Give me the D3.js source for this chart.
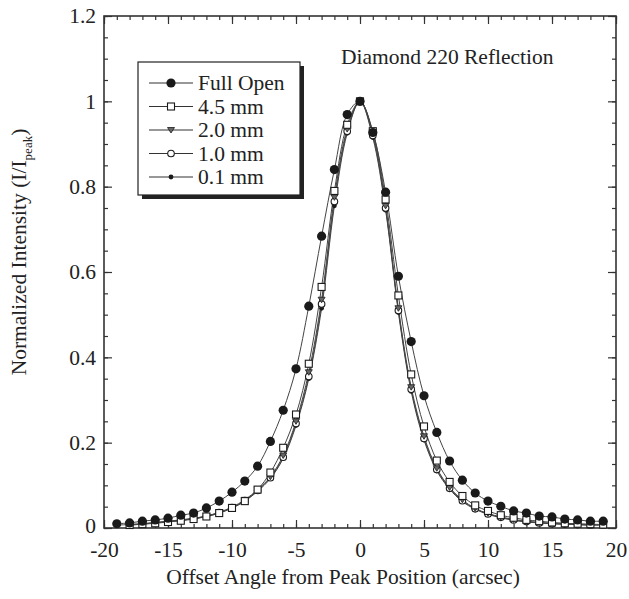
<!DOCTYPE html>
<html>
<head>
<meta charset="utf-8">
<script src="https://cdn.jsdelivr.net/npm/d3@7"></script>
<style>
  body { margin: 0; background: #fff; }
  text { font-family: "Liberation Serif", "Times New Roman", serif; fill: #222; }
</style>
</head>
<body>
<svg id="chart" width="629" height="599"></svg>
<script>
// ---- data ----
const seriesNames = ["Full Open", "4.5 mm", "2.0 mm", "1.0 mm", "0.1 mm"];

const fullOpenX = [-19,-18,-17,-16,-15,-14,-13,-12,-11,-10,-9,-8,-7,-6,-5,-4,-3,-2,-1,0,1,2,3,4,5,6,7,8,9,10,11,12,13,14,15,16,17,18,19];
const fullOpenY = [0.010,0.012,0.016,0.019,0.023,0.030,0.035,0.047,0.063,0.084,0.110,0.145,0.203,0.276,0.373,0.520,0.684,0.840,0.969,1.000,0.927,0.787,0.590,0.437,0.310,0.224,0.157,0.112,0.082,0.063,0.051,0.040,0.035,0.028,0.026,0.021,0.019,0.016,0.016];

const mm45X = [-18,-17,-16,-15,-14,-13,-12,-11,-10,-9,-8,-7,-6,-5,-4,-3,-2,-1,0,1,2,3,4,5,6,7,8,9,10,11,12,13,14,15,16,17,18,19];
const mm45Y = [0.007,0.009,0.011,0.014,0.017,0.021,0.027,0.035,0.047,0.063,0.090,0.130,0.188,0.266,0.385,0.565,0.790,0.945,1.000,0.930,0.770,0.545,0.360,0.238,0.158,0.108,0.075,0.053,0.040,0.030,0.024,0.019,0.016,0.013,0.011,0.010,0.009,0.008];

const mm20X = [-18,-17,-16,-15,-14,-13,-12,-11,-10,-9,-8,-7,-6,-5,-4,-3,-2,-1,0,1,2,3,4,5,6,7,8,9,10,11,12,13,14,15,16,17,18];
const mm20Y = [0.008,0.010,0.013,0.016,0.019,0.023,0.028,0.037,0.049,0.066,0.090,0.120,0.170,0.250,0.365,0.535,0.775,0.935,1.000,0.925,0.755,0.515,0.330,0.215,0.140,0.095,0.066,0.046,0.034,0.026,0.020,0.016,0.013,0.011,0.009,0.008,0.007];

const mm10X = [-18,-17,-16,-15,-14,-13,-12,-11,-10,-9,-8,-7,-6,-5,-4,-3,-2,-1,0,1,2,3,4,5,6,7,8,9,10,11,12,13,14,15,16,17,18,19];
const mm10Y = [0.007,0.009,0.012,0.015,0.018,0.022,0.028,0.036,0.048,0.064,0.088,0.118,0.166,0.245,0.355,0.525,0.765,0.930,1.000,0.920,0.750,0.510,0.325,0.210,0.137,0.093,0.064,0.045,0.033,0.025,0.019,0.015,0.012,0.010,0.009,0.008,0.007,0.007];

const mm01X = [-19,-18,-17,-16,-15,-14,-13,-12,-11,-10,-9,-8,-7,-6,-5,-4,-3,-2,-1,0,1,2,3,4,5,6,7,8,9,10,11,12,13,14,15,16,17,18,19];
const mm01Y = [0.007,0.008,0.010,0.012,0.015,0.018,0.022,0.027,0.035,0.047,0.063,0.086,0.116,0.163,0.240,0.350,0.515,0.755,0.925,1.000,0.915,0.745,0.505,0.320,0.206,0.134,0.091,0.062,0.044,0.032,0.024,0.018,0.014,0.012,0.010,0.009,0.008,0.007,0.007];

const xTicks = [-20,-15,-10,-5,0,5,10,15,20];
const yTicks = [0,0.2,0.4,0.6,0.8,1,1.2];
const yTickLabels = ["0","0.2","0.4","0.6","0.8","1","1.2"];

const xTitle = "Offset Angle from Peak Position (arcsec)";
const yTitle = "Normalized Intensity (I/I";
const yTitleSub = "peak";
const annotation = "Diamond 220 Reflection";

// ---- layout ----
const svg = d3.select("#chart");
const L = 104, R = 616, T = 16, B = 528;
const x = d3.scaleLinear().domain([-20, 20]).range([L, R]);
const y = d3.scaleLinear().domain([0, 1.2]).range([B, T]);
const ink = "#1a1a1a";
const FS = 21.5;

const series = [
  {name: seriesNames[0], xs: fullOpenX, ys: fullOpenY, marker: "bigdot"},
  {name: seriesNames[1], xs: mm45X, ys: mm45Y, marker: "square"},
  {name: seriesNames[2], xs: mm20X, ys: mm20Y, marker: "tri"},
  {name: seriesNames[3], xs: mm10X, ys: mm10Y, marker: "circle"},
  {name: seriesNames[4], xs: mm01X, ys: mm01Y, marker: "smalldot"}
];

function drawMarker(g, type, cx, cy) {
  if (type === "bigdot") {
    g.append("circle").attr("cx", cx).attr("cy", cy).attr("r", 4.6).attr("fill", ink);
  } else if (type === "square") {
    g.append("rect").attr("x", cx - 3.5).attr("y", cy - 3.5).attr("width", 7).attr("height", 7)
      .attr("fill", "#fff").attr("stroke", ink).attr("stroke-width", 1.1);
  } else if (type === "tri") {
    g.append("path").attr("d", `M${cx-3.5},${cy-2.5}L${cx+3.5},${cy-2.5}L${cx},${cy+3}Z`)
      .attr("fill", "#666").attr("stroke", ink).attr("stroke-width", 0.8);
  } else if (type === "circle") {
    g.append("circle").attr("cx", cx).attr("cy", cy).attr("r", 3.3)
      .attr("fill", "#fff").attr("stroke", ink).attr("stroke-width", 1.1);
  } else {
    g.append("circle").attr("cx", cx).attr("cy", cy).attr("r", 2.4).attr("fill", ink);
  }
}

// ---- axes (ticks inward on all four sides) ----
const axG = svg.append("g");
function styleAxis(sel) {
  sel.select(".domain").remove();
  sel.selectAll("line").attr("stroke", "#333").attr("stroke-width", 1.2);
}
const xMinor = d3.range(-20, 21, 1);
const yMinor = d3.range(0, 1.2001, 0.05);

axG.append("g").attr("transform", `translate(0,${B})`)
  .call(d3.axisBottom(x).tickValues(xMinor).tickSize(-4).tickFormat("")).call(styleAxis);
axG.append("g").attr("transform", `translate(0,${B})`)
  .call(d3.axisBottom(x).tickValues(xTicks).tickSize(-8).tickFormat(d => d < 0 ? "-" + Math.abs(d) : d).tickPadding(14))
  .call(styleAxis)
  .selectAll("text").attr("font-size", FS).attr("fill", "#222").style("font-family", "Liberation Serif");
axG.append("g").attr("transform", `translate(0,${T})`)
  .call(d3.axisTop(x).tickValues(xMinor).tickSize(-4).tickFormat("")).call(styleAxis);
axG.append("g").attr("transform", `translate(0,${T})`)
  .call(d3.axisTop(x).tickValues(xTicks).tickSize(-8).tickFormat("")).call(styleAxis);

axG.append("g").attr("transform", `translate(${L},0)`)
  .call(d3.axisLeft(y).tickValues(yMinor).tickSize(-4).tickFormat("")).call(styleAxis);
axG.append("g").attr("transform", `translate(${L},0)`)
  .call(d3.axisLeft(y).tickValues(yTicks).tickSize(-8).tickFormat((d, i) => yTickLabels[i]).tickPadding(8))
  .call(styleAxis)
  .selectAll("text").attr("font-size", FS).attr("fill", "#222").style("font-family", "Liberation Serif")
  .attr("dy", (d, i) => i === 0 ? "0.2em" : "0.32em");
axG.append("g").attr("transform", `translate(${R},0)`)
  .call(d3.axisRight(y).tickValues(yMinor).tickSize(-4).tickFormat("")).call(styleAxis);
axG.append("g").attr("transform", `translate(${R},0)`)
  .call(d3.axisRight(y).tickValues(yTicks).tickSize(-8).tickFormat("")).call(styleAxis);

// frame
svg.append("rect").attr("x", L).attr("y", T).attr("width", R - L).attr("height", B - T)
  .attr("fill", "none").attr("stroke", "#333").attr("stroke-width", 1.6);

// ---- series ----
const line = d3.line().x(d => x(d[0])).y(d => y(d[1])).curve(d3.curveCatmullRom.alpha(0.5));
const plotG = svg.append("g");
series.slice().reverse().forEach(s => {
  const pts = s.xs.map((v, i) => [v, s.ys[i]]);
  plotG.append("path").datum(pts).attr("d", line)
    .attr("fill", "none").attr("stroke", "#444").attr("stroke-width", 1);
});
series.slice().reverse().forEach(s => {
  const g = plotG.append("g");
  s.xs.forEach((v, i) => drawMarker(g, s.marker, x(v), y(s.ys[i])));
});

// ---- annotation ----
svg.append("text").attr("x", 341).attr("y", 64).attr("font-size", FS).text(annotation);

// ---- legend ----
const lg = svg.append("g");
const lx = 138, ly = 62, lw = 162, lh = 133;
lg.append("rect").attr("x", lx + 4).attr("y", ly + 4).attr("width", lw).attr("height", lh).attr("fill", "#222");
lg.append("rect").attr("x", lx).attr("y", ly).attr("width", lw).attr("height", lh)
  .attr("fill", "#fff").attr("stroke", "#222").attr("stroke-width", 1.2);
series.forEach((s, i) => {
  const yy = ly + 21 + i * 23.5;
  lg.append("line").attr("x1", lx + 11).attr("x2", lx + 55).attr("y1", yy).attr("y2", yy)
    .attr("stroke", "#333").attr("stroke-width", 1.2);
  drawMarker(lg, s.marker, lx + 33, yy);
  lg.append("text").attr("x", lx + 60).attr("y", yy + 7).attr("font-size", FS).text(s.name);
});

// ---- axis titles ----
svg.append("text").attr("x", 343).attr("y", 584).attr("text-anchor", "middle")
  .attr("font-size", FS).text(xTitle);
const yt = svg.append("text").attr("transform", `translate(26,252) rotate(-90)`)
  .attr("text-anchor", "middle").attr("font-size", FS);
yt.append("tspan").text(yTitle);
yt.append("tspan").attr("font-size", 13).attr("dy", 6).text(yTitleSub);
yt.append("tspan").attr("dy", -6).text(")");
</script>
</body>
</html>
